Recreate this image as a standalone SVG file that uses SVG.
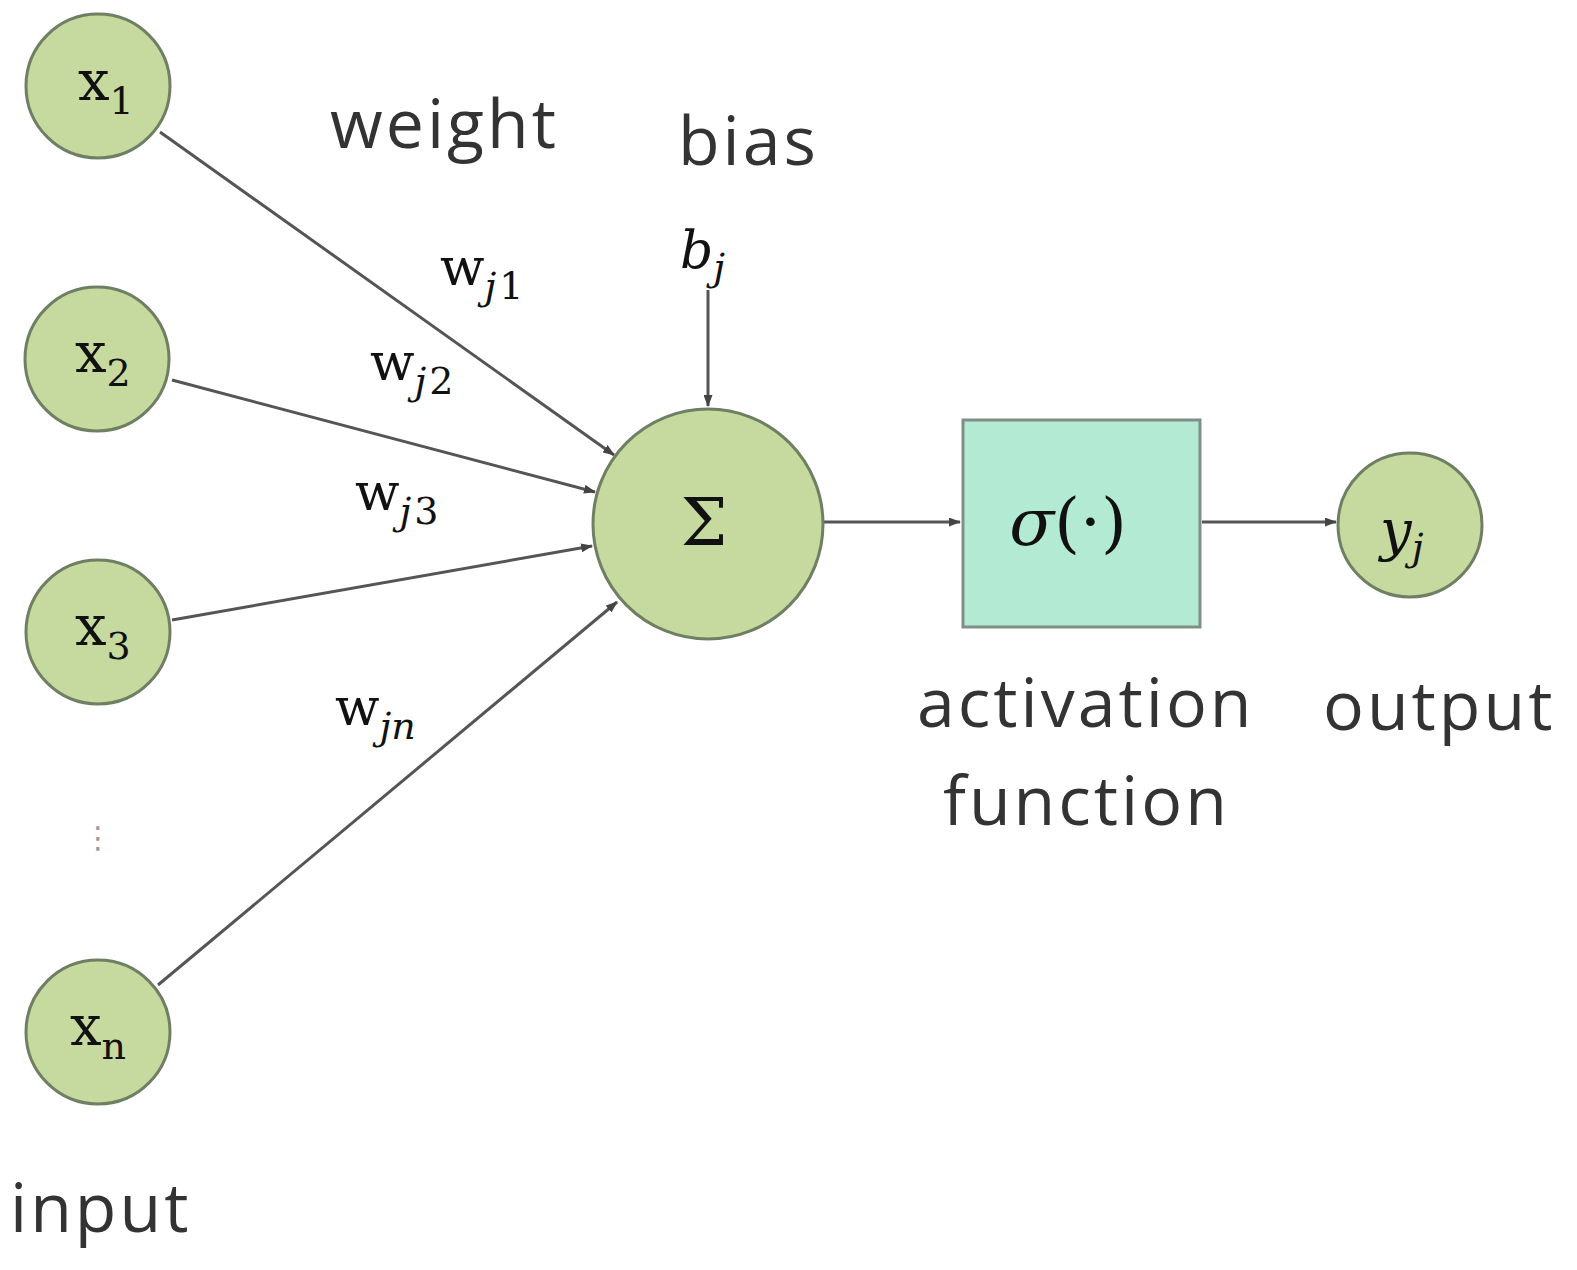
<svg xmlns="http://www.w3.org/2000/svg" width="1577" height="1270" viewBox="0 0 1577 1270">
<defs>
<style>
.n{fill:#c6d99e;stroke:#6f7f63;stroke-width:3}
.c{stroke:#555;stroke-width:3;fill:none}
.lab{font-family:"Open Sans","Liberation Sans",sans-serif;font-size:68px;fill:#333;letter-spacing:3px}
.m{font-family:"DejaVu Serif","Liberation Serif",serif;fill:#111}
.sub{font-size:38px}
</style>
<marker id="a" markerWidth="12" markerHeight="9" refX="11" refY="4.5" orient="auto" markerUnits="userSpaceOnUse"><path d="M0,0L12,4.5L0,9z" fill="#444"/></marker>
</defs>
<rect width="1577" height="1270" fill="#fff"/>
<g id="connectors">
<line class="c" x1="160" y1="132" x2="614" y2="455" marker-end="url(#a)"/>
<line class="c" x1="172" y1="380" x2="595" y2="492" marker-end="url(#a)"/>
<line class="c" x1="172" y1="620" x2="592" y2="546" marker-end="url(#a)"/>
<line class="c" x1="158" y1="985" x2="617" y2="602" marker-end="url(#a)"/>
<line class="c" x1="708" y1="290" x2="708" y2="406" marker-end="url(#a)"/>
<line class="c" x1="824" y1="522" x2="960" y2="522" marker-end="url(#a)"/>
<line class="c" x1="1202" y1="522" x2="1336" y2="522" marker-end="url(#a)"/>
</g>
<g id="x1"><circle class="n" cx="98" cy="86" r="72"/><text class="m" x="78" y="100" font-size="56">x<tspan class="sub" dy="14">1</tspan></text></g>
<g id="x2"><circle class="n" cx="97" cy="359" r="72"/><text class="m" x="75" y="372" font-size="56">x<tspan class="sub" dy="14">2</tspan></text></g>
<g id="x3"><circle class="n" cx="98" cy="632" r="72"/><text class="m" x="75" y="645" font-size="56">x<tspan class="sub" dy="14">3</tspan></text></g>
<g id="xn"><circle class="n" cx="98" cy="1032" r="72"/><text class="m" x="70" y="1045" font-size="56">x<tspan class="sub" dy="14">n</tspan></text></g>
<text x="98" y="848" font-family="DejaVu Sans,sans-serif" font-size="30" fill="#999" text-anchor="middle">⋮</text>
<g id="sum"><circle class="n" cx="708" cy="524" r="115"/><text class="m" x="704" y="545" font-size="66" text-anchor="middle">Σ</text></g>
<g id="act"><rect x="963" y="420" width="237" height="207" fill="#b3ead4" stroke="#7f8f88" stroke-width="3"/><text class="m" x="1068" y="545" font-size="66" text-anchor="middle"><tspan font-style="italic">σ</tspan>(·)</text></g>
<g id="y"><circle class="n" cx="1410" cy="525" r="72"/><text class="m" x="1380" y="550" font-size="56" font-style="italic">y<tspan class="sub" dy="10">j</tspan></text></g>
<g id="labels">
<text class="lab" x="330" y="148">weight</text>
<text class="lab" x="678" y="165">bias</text>
<text class="lab" x="917" y="727">activation</text>
<text class="lab" x="943" y="825">function</text>
<text class="lab" x="1323" y="730">output</text>
<text class="lab" x="10" y="1232">input</text>
<text class="m" x="680" y="268" font-size="52" font-style="italic">b<tspan class="sub" dy="12">j</tspan></text>
<text class="m" x="440" y="285" font-size="52">w<tspan class="sub" dy="14" letter-spacing="3"><tspan font-style="italic">j</tspan>1</tspan></text>
<text class="m" x="370" y="380" font-size="52">w<tspan class="sub" dy="14" letter-spacing="3"><tspan font-style="italic">j</tspan>2</tspan></text>
<text class="m" x="355" y="510" font-size="52">w<tspan class="sub" dy="14" letter-spacing="3"><tspan font-style="italic">j</tspan>3</tspan></text>
<text class="m" x="335" y="725" font-size="52">w<tspan class="sub" dy="14" font-style="italic">jn</tspan></text>
</g>
</svg>
